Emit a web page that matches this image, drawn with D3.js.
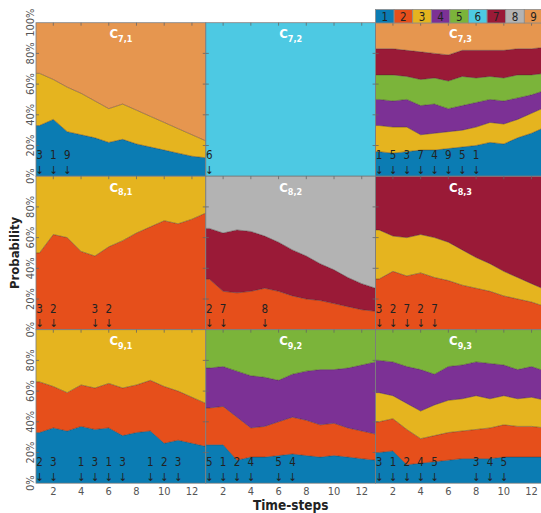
<!DOCTYPE html>
<html><head><meta charset="utf-8">
<script src="https://cdn.jsdelivr.net/npm/d3@7"></script>
<style>body{margin:0;background:#fff;} svg{display:block}</style>
</head><body>
<svg id="chart" width="541" height="513"></svg>
<script>
// ---------- data ----------
const timeSteps = [1,2,3,4,5,6,7,8,9,10,11,12,13];
const stateLabels = ["1","2","3","4","5","6","7","8","9"];
const stateColors = ["#0b7cb3","#e64f1b","#e5b41f","#7c3195","#7bb43a","#4dc9e3","#9a1a37","#b3b3b3","#e6964f"];
const xTickValues = [2,4,6,8,10,12];
const yTickValues = [0,0.2,0.4,0.6,0.8,1];
const yTickLabels = ["0%","20%","40%","60%","80%","100%"];
const panelTitles = ["7,1","7,2","7,3","8,1","8,2","8,3","9,1","9,2","9,3"];

// C7,1
const c71States = [1,3,9];
const c71P1 = [0.33,0.37,0.29,0.27,0.25,0.22,0.24,0.21,0.19,0.17,0.15,0.13,0.12];
const c71P3 = [0.34,0.26,0.29,0.27,0.24,0.22,0.23,0.22,0.20,0.18,0.16,0.14,0.11];
const c71P9 = [0.33,0.37,0.42,0.46,0.51,0.56,0.53,0.57,0.61,0.65,0.69,0.73,0.77];
const c71ArrowSteps = [1,2,3];
const c71ArrowLabels = ["3","1","9"];
// C7,2
const c72States = [6];
const c72P6 = [1,1,1,1,1,1,1,1,1,1,1,1,1];
const c72ArrowSteps = [1];
const c72ArrowLabels = ["6"];
// C7,3
const c73States = [1,3,4,5,7,9];
const c73P1 = [0.16,0.15,0.16,0.17,0.17,0.18,0.19,0.20,0.22,0.21,0.25,0.28,0.32];
const c73P3 = [0.17,0.17,0.16,0.10,0.11,0.11,0.11,0.12,0.13,0.13,0.12,0.13,0.13];
const c73P4 = [0.17,0.17,0.18,0.19,0.19,0.15,0.16,0.16,0.15,0.15,0.14,0.12,0.11];
const c73P5 = [0.16,0.17,0.15,0.17,0.17,0.18,0.19,0.16,0.15,0.15,0.15,0.13,0.11];
const c73P7 = [0.17,0.17,0.17,0.18,0.16,0.17,0.17,0.18,0.17,0.18,0.17,0.17,0.17];
const c73P9 = [0.17,0.17,0.18,0.19,0.20,0.21,0.18,0.18,0.18,0.18,0.17,0.17,0.16];
const c73ArrowSteps = [1,2,3,4,5,6,7,8];
const c73ArrowLabels = ["1","5","3","7","4","9","5","1"];
// C8,1
const c81States = [2,3];
const c81P2 = [0.50,0.62,0.60,0.51,0.48,0.54,0.58,0.63,0.67,0.71,0.69,0.72,0.76];
const c81P3 = [0.50,0.38,0.40,0.49,0.52,0.46,0.42,0.37,0.33,0.29,0.31,0.28,0.24];
const c81ArrowSteps = [1,2,5,6];
const c81ArrowLabels = ["3","2","3","2"];
// C8,2
const c82States = [2,7,8];
const c82P2 = [0.33,0.25,0.24,0.25,0.27,0.25,0.22,0.20,0.19,0.17,0.15,0.13,0.12];
const c82P7 = [0.33,0.38,0.41,0.39,0.34,0.32,0.30,0.28,0.24,0.22,0.19,0.17,0.15];
const c82P8 = [0.34,0.37,0.35,0.36,0.39,0.43,0.48,0.52,0.57,0.61,0.66,0.70,0.73];
const c82ArrowSteps = [1,2,5];
const c82ArrowLabels = ["2","7","8"];
// C8,3
const c83States = [2,3,7];
const c83P2 = [0.33,0.38,0.35,0.37,0.34,0.32,0.29,0.27,0.25,0.22,0.20,0.18,0.15];
const c83P3 = [0.32,0.23,0.25,0.25,0.26,0.25,0.23,0.20,0.18,0.16,0.14,0.12,0.11];
const c83P7 = [0.35,0.39,0.40,0.38,0.40,0.43,0.48,0.53,0.57,0.62,0.66,0.70,0.74];
const c83ArrowSteps = [1,2,3,4,5];
const c83ArrowLabels = ["3","2","7","2","7"];
// C9,1
const c91States = [1,2,3];
const c91P1 = [0.33,0.36,0.34,0.37,0.35,0.36,0.31,0.33,0.34,0.26,0.28,0.26,0.24];
const c91P2 = [0.33,0.27,0.25,0.27,0.27,0.29,0.31,0.31,0.33,0.37,0.32,0.30,0.28];
const c91P3 = [0.34,0.37,0.41,0.36,0.38,0.35,0.38,0.36,0.33,0.37,0.40,0.44,0.48];
const c91ArrowSteps = [1,2,4,5,6,7,9,10,11];
const c91ArrowLabels = ["2","3","1","3","1","3","1","2","3"];
// C9,2
const c92States = [1,2,4,5];
const c92P1 = [0.25,0.25,0.15,0.17,0.17,0.18,0.19,0.18,0.17,0.18,0.17,0.16,0.15];
const c92P2 = [0.24,0.25,0.28,0.19,0.20,0.22,0.24,0.23,0.21,0.21,0.19,0.18,0.17];
const c92P4 = [0.26,0.26,0.30,0.34,0.32,0.27,0.28,0.32,0.36,0.35,0.39,0.43,0.47];
const c92P5 = [0.25,0.24,0.27,0.30,0.31,0.33,0.29,0.27,0.26,0.26,0.25,0.23,0.21];
const c92ArrowSteps = [1,2,3,4,6,7];
const c92ArrowLabels = ["5","1","2","4","5","4"];
// C9,3
const c93States = [1,2,3,4,5];
const c93P1 = [0.20,0.21,0.12,0.13,0.14,0.15,0.16,0.16,0.16,0.17,0.17,0.17,0.17];
const c93P2 = [0.20,0.21,0.23,0.16,0.17,0.18,0.18,0.19,0.20,0.21,0.20,0.20,0.19];
const c93P3 = [0.19,0.15,0.17,0.18,0.20,0.21,0.21,0.22,0.19,0.19,0.18,0.19,0.18];
const c93P4 = [0.21,0.22,0.24,0.27,0.20,0.22,0.22,0.22,0.23,0.20,0.19,0.20,0.19];
const c93P5 = [0.20,0.21,0.24,0.26,0.29,0.24,0.23,0.21,0.22,0.23,0.26,0.24,0.27];
const c93ArrowSteps = [1,2,3,4,5,8,9,10];
const c93ArrowLabels = ["3","1","2","4","5","3","4","5"];

// ---------- assemble ----------
const panels = [
  {states:c71States, series:[c71P1,c71P3,c71P9], aSteps:c71ArrowSteps, aLabels:c71ArrowLabels},
  {states:c72States, series:[c72P6], aSteps:c72ArrowSteps, aLabels:c72ArrowLabels},
  {states:c73States, series:[c73P1,c73P3,c73P4,c73P5,c73P7,c73P9], aSteps:c73ArrowSteps, aLabels:c73ArrowLabels},
  {states:c81States, series:[c81P2,c81P3], aSteps:c81ArrowSteps, aLabels:c81ArrowLabels},
  {states:c82States, series:[c82P2,c82P7,c82P8], aSteps:c82ArrowSteps, aLabels:c82ArrowLabels},
  {states:c83States, series:[c83P2,c83P3,c83P7], aSteps:c83ArrowSteps, aLabels:c83ArrowLabels},
  {states:c91States, series:[c91P1,c91P2,c91P3], aSteps:c91ArrowSteps, aLabels:c91ArrowLabels},
  {states:c92States, series:[c92P1,c92P2,c92P4,c92P5], aSteps:c92ArrowSteps, aLabels:c92ArrowLabels},
  {states:c93States, series:[c93P1,c93P2,c93P3,c93P4,c93P5], aSteps:c93ArrowSteps, aLabels:c93ArrowLabels}
];

// ---------- layout ----------
const FONT = "'DejaVu Sans Condensed','Liberation Sans Narrow','Roboto Condensed',Roboto,sans-serif";
const left0 = 36, top0 = 22.7, pw = 169.8, ph = 153.5;
const xDomain = [0.75, 13];

const svg = d3.select("#chart").style("font-family", FONT);
const defs = svg.append("defs");

panels.forEach((p, idx) => {
  const row = Math.floor(idx/3), col = idx % 3;
  const x0 = left0 + col*pw, y0 = top0 + row*ph;
  const x = d3.scaleLinear().domain(xDomain).range([x0, x0+pw]);
  const y = d3.scaleLinear().domain([0,1]).range([y0+ph, y0]);

  const keys = p.states.map(String);
  const rows = timeSteps.map((t,i) => {
    const r = {t};
    keys.forEach((k,j) => r[k] = p.series[j][i]);
    return r;
  });
  // extend first observation to the left edge of the panel
  const first = Object.assign({}, rows[0], {t: xDomain[0]});
  const data = [first, ...rows];

  const stacked = d3.stack().keys(keys)(data);
  const area = d3.area().x(d => x(d.data.t)).y0(d => y(d[0])).y1(d => y(d[1]));
  const line = d3.line().x(d => x(d.data.t)).y(d => y(d[1]));

  const g = svg.append("g");
  const cid = "clip" + idx;
  defs.append("clipPath").attr("id", cid).append("rect")
    .attr("x", x0).attr("y", y0).attr("width", pw).attr("height", ph);
  const inner = g.append("g").attr("clip-path", `url(#${cid})`);

  inner.selectAll("path.area").data(stacked).join("path")
    .attr("class","area")
    .attr("d", area)
    .attr("fill", d => stateColors[+d.key - 1]);
  inner.selectAll("path.edge").data(stacked.slice(0, -1)).join("path")
    .attr("class","edge")
    .attr("d", line)
    .attr("fill","none")
    .attr("stroke","#3a2a2a")
    .attr("stroke-opacity",0.6)
    .attr("stroke-width",0.7);

  // frame
  g.append("rect").attr("x", x0).attr("y", y0).attr("width", pw).attr("height", ph)
    .attr("fill","none").attr("stroke","#7a7a7a").attr("stroke-width",0.8);

  // inner ticks: top
  g.selectAll("line.xt").data(xTickValues).join("line")
    .attr("x1", d => x(d)).attr("x2", d => x(d))
    .attr("y1", y0).attr("y2", y0 + 3)
    .attr("stroke","#666").attr("stroke-width",0.8);
  // inner ticks: left and right
  const yInner = yTickValues.slice(1, -1);
  g.selectAll("line.ytl").data(yInner).join("line")
    .attr("x1", x0).attr("x2", x0 + 3).attr("y1", d => y(d)).attr("y2", d => y(d))
    .attr("stroke","#666").attr("stroke-width",0.8);
  g.selectAll("line.ytr").data(yInner).join("line")
    .attr("x1", x0 + pw - 3).attr("x2", x0 + pw).attr("y1", d => y(d)).attr("y2", d => y(d))
    .attr("stroke","#666").attr("stroke-width",0.8);

  // title
  const title = g.append("text")
    .attr("x", x0 + pw/2).attr("y", y0 + 15.6)
    .attr("text-anchor","middle").attr("fill","#fff")
    .attr("font-weight","bold").attr("font-size",13);
  title.append("tspan").text("C");
  title.append("tspan").attr("font-size",9).attr("dy",3.4).text(panelTitles[idx]);

  // arrows with state labels
  g.selectAll("text.al").data(p.aSteps).join("text")
    .attr("x", d => x(d)).attr("y", y0 + ph - 16.8)
    .attr("text-anchor","middle").attr("font-size",11.5).attr("fill","#222")
    .text((d,i) => p.aLabels[i]);
  g.selectAll("text.ar").data(p.aSteps).join("text")
    .attr("x", d => x(d)).attr("y", y0 + ph - 2.5)
    .attr("text-anchor","middle").attr("font-size",11).attr("fill","#222")
    .text("\u2193");

  // y labels on first column
  if (col === 0) {
    const vals = row === 0 ? yTickValues : yTickValues.slice(0, -1);
    g.selectAll("text.yl").data(vals).join("text")
      .attr("transform", d => `translate(${x0 - 2},${y(d)}) rotate(-90)`)
      .attr("text-anchor","middle").attr("font-size",11).attr("fill","#555")
      .text(d => yTickLabels[yTickValues.indexOf(d)]);
  }
  // x labels on bottom row
  if (row === 2) {
    g.selectAll("text.xl").data(xTickValues).join("text")
      .attr("x", d => x(d)).attr("y", y0 + ph + 11.3)
      .attr("text-anchor","middle").attr("font-size",11).attr("fill","#555")
      .text(d => d);
  }
});

// axis titles
svg.append("text")
  .attr("transform", `translate(19,${top0 + 1.5*ph}) rotate(-90)`)
  .attr("text-anchor","middle").attr("font-weight","bold").attr("font-size",13).attr("fill","#222")
  .text("Probability");
svg.append("text")
  .attr("x", left0 + 1.5*pw).attr("y", 509.5)
  .attr("text-anchor","middle").attr("font-weight","bold").attr("font-size",13.5).attr("fill","#222")
  .text("Time-steps");

// legend
const lx0 = 375.5, lw = 18.6, ly0 = 9.5, lh = 13.5;
const leg = svg.append("g");
leg.selectAll("rect").data(stateLabels).join("rect")
  .attr("x", (d,i) => lx0 + i*lw).attr("y", ly0).attr("width", lw).attr("height", lh)
  .attr("fill", (d,i) => stateColors[i]).attr("stroke","#8a8a8a").attr("stroke-width",0.8);
leg.selectAll("text").data(stateLabels).join("text")
  .attr("x", (d,i) => lx0 + i*lw + lw/2).attr("y", ly0 + 11)
  .attr("text-anchor","middle").attr("font-size",11.5).attr("fill","#222")
  .text(d => d);
</script>
</body></html>
